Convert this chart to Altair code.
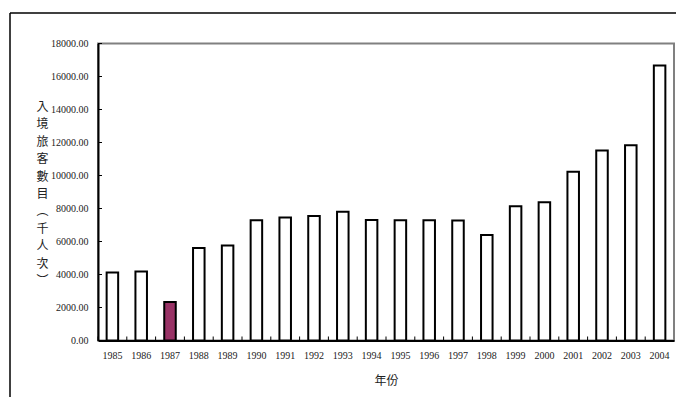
import altair as alt
import pandas as pd

YEARS = ["1985", "1986", "1987", "1988", "1989", "1990", "1991", "1992", "1993", "1994",
         "1995", "1996", "1997", "1998", "1999", "2000", "2001", "2002", "2003", "2004"]
VALUES = [4120, 4180, 2340, 5600, 5760, 7290, 7450, 7550, 7810, 7310,
          7290, 7290, 7270, 6400, 8140, 8380, 10230, 11520, 11840, 16660]
HIGHLIGHT = "1987"
Y_TICKS = [0, 2000, 4000, 6000, 8000, 10000, 12000, 14000, 16000, 18000]
Y_TITLE = list("入境旅客數目︵千人次︶")
X_TITLE = "年份"

W, H = 576, 297
STEP = W / len(YEARS)

df = pd.DataFrame({"year": YEARS, "value": VALUES})
ticks_df = pd.DataFrame({"t": Y_TICKS})

xscale = alt.Scale(domain=YEARS, paddingInner=0.6, paddingOuter=0.3)
yscale = alt.Scale(domain=[0, 18000], nice=False)

serif = "Liberation Serif, DejaVu Serif, Times New Roman, serif"
cjk = "Noto Sans CJK TC"

xaxis = alt.Axis(title=X_TITLE, labelAngle=0, labelAlign="center", ticks=False,
                 labelPadding=15, labelBaseline="middle", labelFont=serif,
                 labelFontSize=10, labelColor="#222", labelOverlap=False,
                 domainColor="black", domainWidth=2,
                 titleFont=cjk, titleFontSize=12, titleFontWeight="normal",
                 titleColor="#222", titleY=40, titleBaseline="middle")
yaxis = alt.Axis(values=Y_TICKS, format=".2f", ticks=False, grid=False,
                 labelPadding=10, labelFont=serif, labelFontSize=10,
                 labelColor="#222", labelOverlap=False,
                 domainColor="black", domainWidth=2,
                 title=Y_TITLE, titleAngle=0, titleFont=cjk, titleFontSize=12,
                 titleFontWeight="normal", titleColor="#222",
                 titleX=-56, titleY=58, titleAlign="center",
                 titleBaseline="top", titleLineHeight=17.4)

bars = alt.Chart(df).mark_bar(stroke="black", strokeWidth=2).encode(
    x=alt.X("year:N", scale=xscale, sort=YEARS, axis=xaxis),
    y=alt.Y("value:Q", scale=yscale, axis=yaxis),
    color=alt.condition(alt.datum.year == HIGHLIGHT, alt.value("#993366"), alt.value("white")),
)

ytick_rules = alt.Chart(ticks_df).mark_rule(color="black", strokeWidth=1).encode(
    y=alt.Y("t:Q", scale=yscale, axis=yaxis),
    x=alt.value(0), x2=alt.value(4),
)

xtick_rules = alt.Chart(df).mark_rule(color="black", strokeWidth=1, xOffset=-STEP / 2).encode(
    x=alt.X("year:N", scale=xscale, sort=YEARS, axis=xaxis),
    y=alt.value(H), y2=alt.value(H - 4),
)

frame = alt.Data(values=[{"a": 1}])
top_line = alt.Chart(frame).mark_rule(color="black", strokeWidth=1.5).encode(
    x=alt.value(-88), x2=alt.value(700), y=alt.value(-30.5)
)
left_line = alt.Chart(frame).mark_rule(color="black", strokeWidth=1.5).encode(
    x=alt.value(-88), y=alt.value(-30.5), y2=alt.value(420)
)

chart = alt.layer(bars, ytick_rules, xtick_rules, top_line, left_line).properties(
    width=W, height=H,
    background="white",
    autosize=alt.AutoSizeParams(type="none"),
    padding={"left": 90, "top": 35.5, "right": 2, "bottom": 56},
).configure_view(stroke="#808080", strokeWidth=2)

chart.save("out.html", embed_options={"renderer": "svg", "actions": False})
